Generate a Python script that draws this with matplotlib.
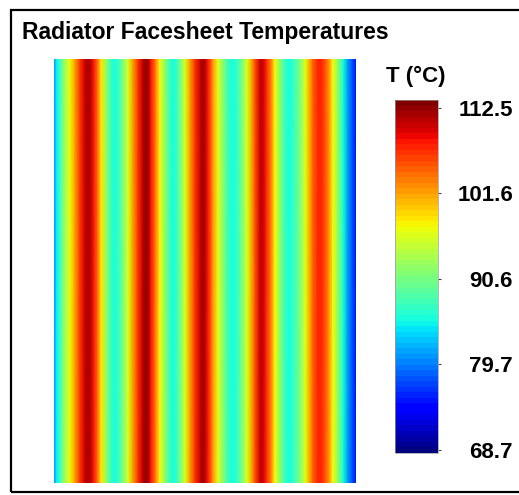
import numpy as np
import matplotlib.pyplot as plt
from matplotlib.colors import Normalize
from matplotlib.patches import Rectangle

plt.rcParams['font.family'] = ['Liberation Sans', 'DejaVu Sans']

# temperature across the facesheet (constant along its height)
col_pos = [0, 3, 6, 9, 13, 16, 21, 26, 31, 34, 37, 41, 44, 47, 52, 57, 60, 64,
           69, 74, 79, 84, 89, 92, 95, 97, 102, 106, 111, 116, 119, 122, 126,
           131, 136, 141, 147, 150, 154, 159, 164, 169, 174, 178, 183, 188,
           193, 198, 201, 206, 209, 213, 218, 221, 226, 231, 235, 239, 246,
           251, 254, 259, 264, 267, 271, 276, 279, 284, 289, 294, 299, 302]
col_temp = [81.0, 84.8, 88.0, 91.0, 95.0, 97.5, 102.0, 106.5, 110.5, 112.0, 110.5,
            107.0, 103.0, 98.0, 92.0, 87.2, 85.6, 87.2, 91.5, 96.5, 102.0, 107.0,
            111.0, 112.5, 111.0, 108.0, 102.5, 97.0, 91.5, 87.2, 85.6, 87.2, 90.5,
            96.0, 101.5, 107.0, 111.0, 111.5, 108.0, 102.0, 96.0, 91.0, 87.2, 85.5,
            87.2, 91.5, 96.5, 102.0, 105.5, 110.5, 110.5, 107.0, 101.5, 97.0, 91.5,
            87.2, 85.6, 87.2, 91.5, 96.5, 100.0, 105.0, 107.5, 107.5, 105.5, 101.0,
            97.0, 91.5, 85.8, 81.0, 77.0, 75.0]

tick_vals = [112.5, 101.6, 90.6, 79.7, 68.7]
tick_labels = ['112.5', '101.6', '90.6', '79.7', '68.7']

W, H = 519, 495
fig = plt.figure(figsize=(W / 100, H / 100), dpi=100)

# frame around the whole panel (right side runs off the picture)
fig.patches.append(Rectangle((11 / W, 1 - 492 / H), 530 / W, 482 / H,
                             transform=fig.transFigure, fill=False,
                             edgecolor='black', linewidth=1.6))

fig.text(22 / W, 1 - 33 / H, 'Radiator Facesheet Temperatures',
         fontsize=16.5, fontweight='bold', ha='left', va='center')

cmap = plt.get_cmap('jet', 64)
norm = Normalize(vmin=68.3, vmax=113.5)

ax = fig.add_axes([54 / W, 1 - 483 / H, 302 / W, 424 / H])
X, Y = np.meshgrid(col_pos, [0, 1])
C = np.vstack([col_temp, col_temp])
ax.pcolormesh(X, Y, C, shading='gouraud', cmap=cmap, norm=norm)
ax.set_xlim(col_pos[0], col_pos[-1])
ax.set_ylim(0, 1)
ax.axis('off')

cax = fig.add_axes([395 / W, 1 - 453 / H, 43 / W, 353 / H])
sm = plt.cm.ScalarMappable(norm=norm, cmap=cmap)
cb = fig.colorbar(sm, cax=cax, ticks=tick_vals)
cb.set_ticklabels(tick_labels)
cb.outline.set_linewidth(0.5)
cb.outline.set_edgecolor('#999999')
cax.tick_params(length=2, width=0.8, color='#444444', pad=52, labelsize=16)
for lbl in cax.get_yticklabels():
    lbl.set_fontweight('bold')
    lbl.set_horizontalalignment('right')

fig.text(416 / W, 1 - 76 / H, 'T (°C)', fontsize=16, fontweight='bold',
         ha='center', va='center')

fig.savefig('out.png', dpi=100)
